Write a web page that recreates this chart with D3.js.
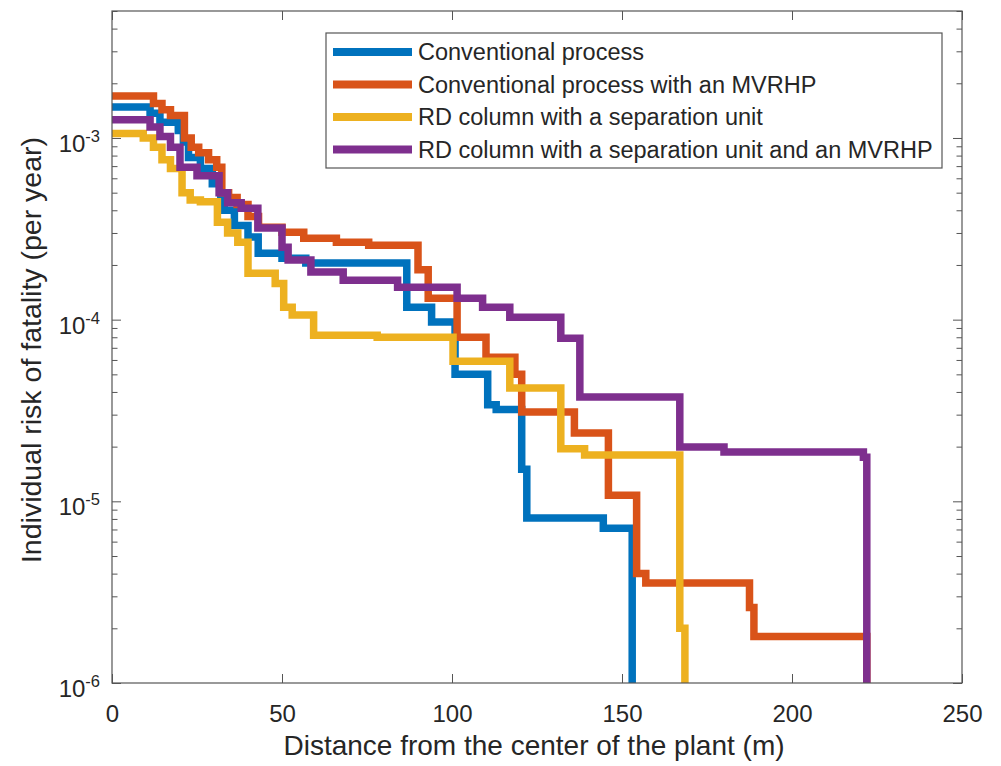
<!DOCTYPE html>
<html>
<head>
<meta charset="utf-8">
<script src="https://cdn.jsdelivr.net/npm/d3@7"></script>
<style>
  html, body { margin: 0; padding: 0; background: #fff; }
  svg { display: block; font-family: "Liberation Sans", Arial, Helvetica, sans-serif; }
</style>
</head>
<body>
<svg id="chart" width="1001" height="766"></svg>
<script>
// Individual risk of fatality vs. distance, step profiles [distance (m), risk (1/yr)]
const seriesNames = [
  "Conventional process",
  "Conventional process with an MVRHP",
  "RD column with a separation unit",
  "RD column with a separation unit and an MVRHP"
];
const seriesColors = ["#0072BD", "#D95319", "#EDB120", "#7E2F8E"];

const conventional = [
  [0, 1.48e-3], [11.2, 1.37e-3], [14.1, 1.22e-3], [19.5, 1.1e-3], [21, 9.5e-4],
  [22.5, 7.8e-4], [26, 6.8e-4], [29.5, 5.6e-4], [32, 4.7e-4], [33, 4.0e-4],
  [36, 3.3e-4], [40, 2.85e-4], [43, 2.32e-4], [50, 2.18e-4], [57, 2.05e-4],
  [86.7, 1.17e-4], [94, 9.7e-5], [100.9, 5.0e-5], [110.5, 3.4e-5], [113, 3.2e-5],
  [120.5, 1.5e-5], [122, 8.1e-6], [144.5, 7.1e-6], [153, 1e-6]
];
const conventionalMvrhp = [
  [0, 1.7e-3], [12.2, 1.55e-3], [14.7, 1.43e-3], [17.2, 1.33e-3], [21.3, 1.0e-3],
  [23.3, 8.9e-4], [25.5, 8.3e-4], [28.4, 7.6e-4], [30.8, 6.9e-4], [32.3, 5.0e-4],
  [34.3, 4.7e-4], [36.8, 4.3e-4], [40, 3.7e-4], [43.1, 3.23e-4], [50, 3.03e-4],
  [56.4, 2.81e-4], [66, 2.67e-4], [75.5, 2.57e-4], [90, 1.88e-4], [93, 1.31e-4],
  [101.5, 8.0e-5], [110, 6.2e-5], [118.5, 5.0e-5], [120.5, 3.1e-5], [136, 2.38e-5],
  [146, 1.08e-5], [154.3, 4.0e-6], [157, 3.55e-6], [187.5, 2.6e-6], [188.8, 1.8e-6],
  [222, 1e-6]
];
const rdSeparation = [
  [0, 1.06e-3], [9.2, 1.0e-3], [12.2, 8.9e-4], [14.7, 7.6e-4], [17.2, 6.8e-4],
  [20.6, 5.0e-4], [23, 4.55e-4], [26, 4.45e-4], [31, 3.44e-4], [34, 3.0e-4],
  [37, 2.67e-4], [40, 1.8e-4], [48, 1.58e-4], [50.5, 1.17e-4], [53, 1.06e-4],
  [59.3, 8.2e-5], [78, 8.0e-5], [100.3, 5.9e-5], [117, 4.2e-5], [132, 1.95e-5],
  [139, 1.8e-5], [167, 2.0e-6], [168.5, 1e-6]
];
const rdSeparationMvrhp = [
  [0, 1.26e-3], [11.2, 1.15e-3], [14.1, 1.02e-3], [17.2, 8.9e-4], [20, 6.9e-4],
  [25, 6.2e-4], [31.5, 5.0e-4], [34, 4.4e-4], [38, 4.1e-4], [42.9, 3.2e-4],
  [50, 2.5e-4], [51.8, 2.13e-4], [58.5, 1.83e-4], [68, 1.65e-4], [84, 1.51e-4],
  [101.5, 1.31e-4], [109, 1.17e-4], [117, 1.03e-4], [132, 7.9e-5], [137.6, 3.75e-5],
  [167, 1.99e-5], [180, 1.87e-5], [221, 1.75e-5], [222, 1e-6]
];

const xTicks = [0, 50, 100, 150, 200, 250];
const yDecadeExponents = [-6, -5, -4, -3];
const xLabel = "Distance from the center of the plant (m)";
const yLabel = "Individual risk of fatality (per year)";

const allSeries = [conventional, conventionalMvrhp, rdSeparation, rdSeparationMvrhp];

const plot = { left: 112, right: 962, top: 11, bottom: 683 };
const axisColor = "#555";
const textColor = "#262626";

const svg = d3.select("#chart");

const x = d3.scaleLinear().domain([0, 250]).range([plot.left, plot.right]);
const y = d3.scaleLog().domain([1e-6, 5e-3]).range([plot.bottom, plot.top]);

// major and minor log ticks
const majorY = yDecadeExponents.map(e => Math.pow(10, e));
const minorY = [];
yDecadeExponents.forEach(e => {
  for (let m = 2; m <= 9; m++) {
    const v = m * Math.pow(10, e);
    if (v <= 5e-3 + 1e-12) minorY.push(v);
  }
});

svg.append("defs").append("clipPath").attr("id", "plotClip")
  .append("rect")
  .attr("x", plot.left).attr("y", plot.top)
  .attr("width", plot.right - plot.left).attr("height", plot.bottom - plot.top);

function styleAxis(g) {
  g.select(".domain").remove();
  g.selectAll(".tick line").attr("stroke", axisColor).attr("stroke-width", 1);
}

// bottom axis with labels
const gx = svg.append("g")
  .attr("transform", `translate(0,${plot.bottom})`)
  .call(d3.axisBottom(x).tickValues(xTicks).tickSizeInner(-9).tickSizeOuter(0).tickPadding(22).tickFormat(d3.format("d")));
styleAxis(gx);
gx.selectAll(".tick text").attr("fill", textColor).attr("font-size", 24)
  .attr("font-family", "Liberation Sans, Arial, sans-serif");

// top axis, ticks only
const gxt = svg.append("g")
  .attr("transform", `translate(0,${plot.top})`)
  .call(d3.axisTop(x).tickValues(xTicks).tickSizeInner(-9).tickSizeOuter(0).tickFormat(""));
styleAxis(gxt);

// left / right log axes
[[plot.left, d3.axisLeft], [plot.right, d3.axisRight]].forEach(([px, axisFn]) => {
  const gMaj = svg.append("g").attr("transform", `translate(${px},0)`)
    .call(axisFn(y).tickValues(majorY).tickSizeInner(-9).tickSizeOuter(0).tickFormat(""));
  styleAxis(gMaj);
  const gMin = svg.append("g").attr("transform", `translate(${px},0)`)
    .call(axisFn(y).tickValues(minorY).tickSizeInner(-5.5).tickSizeOuter(0).tickFormat(""));
  styleAxis(gMin);
});

// decade labels 10^n
const yLab = svg.append("g").attr("fill", textColor);
yDecadeExponents.forEach(e => {
  const yy = y(Math.pow(10, e));
  const t = yLab.append("text")
    .attr("x", 100).attr("y", yy + 14)
    .attr("text-anchor", "end")
    .attr("font-size", 24);
  t.append("tspan").text("10");
  t.append("tspan").attr("font-size", 16.5).attr("dy", -10).text(String(e));
});

// step profiles
const line = d3.line()
  .x(d => x(d[0]))
  .y(d => y(d[1]))
  .curve(d3.curveStepAfter);

const gLines = svg.append("g").attr("clip-path", "url(#plotClip)");
allSeries.forEach((s, i) => {
  gLines.append("path")
    .datum(s)
    .attr("d", line)
    .attr("fill", "none")
    .attr("stroke", seriesColors[i])
    .attr("stroke-width", 7.5)
    .attr("stroke-linejoin", "miter")
    .attr("stroke-linecap", "butt");
});

// frame
svg.append("rect")
  .attr("x", plot.left).attr("y", plot.top)
  .attr("width", plot.right - plot.left).attr("height", plot.bottom - plot.top)
  .attr("fill", "none").attr("stroke", axisColor).attr("stroke-width", 1.2);

// axis titles
svg.append("text")
  .attr("x", (plot.left + plot.right) / 2 - 3).attr("y", 755)
  .attr("text-anchor", "middle").attr("font-size", 28).attr("fill", textColor)
  .text(xLabel);

svg.append("text")
  .attr("transform", `translate(41,${(plot.top + plot.bottom) / 2 + 3}) rotate(-90)`)
  .attr("text-anchor", "middle").attr("font-size", 28.5).attr("fill", textColor)
  .text(yLabel);

// legend
const legend = { x: 326, y: 33, w: 616, h: 135 };
const legendRows = [52, 84.5, 117, 149.5];
const gLeg = svg.append("g");
gLeg.append("rect")
  .attr("x", legend.x).attr("y", legend.y).attr("width", legend.w).attr("height", legend.h)
  .attr("fill", "#fff").attr("stroke", axisColor).attr("stroke-width", 1.2);
seriesNames.forEach((name, i) => {
  gLeg.append("line")
    .attr("x1", 333).attr("x2", 412)
    .attr("y1", legendRows[i]).attr("y2", legendRows[i])
    .attr("stroke", seriesColors[i]).attr("stroke-width", 8);
  gLeg.append("text")
    .attr("x", 418).attr("y", legendRows[i] + 8)
    .attr("font-size", 23.5).attr("fill", textColor)
    .text(name);
});
</script>
</body>
</html>
